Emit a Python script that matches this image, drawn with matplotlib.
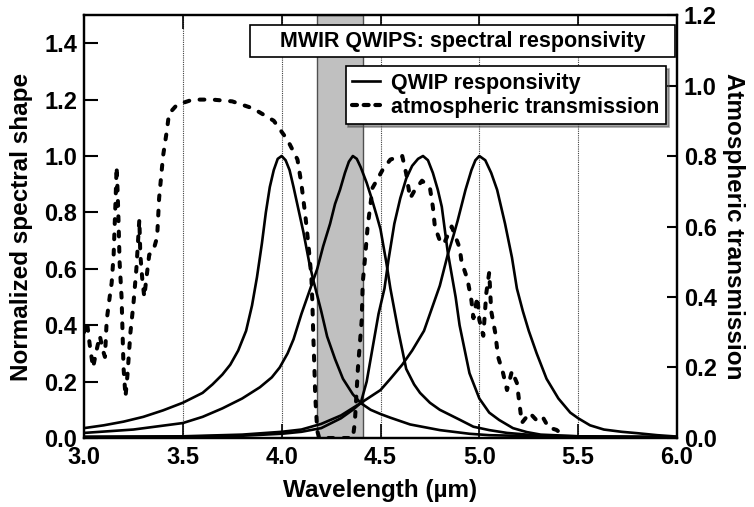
import numpy as np
import matplotlib
matplotlib.use("Agg")
import matplotlib.pyplot as plt
from matplotlib.patches import Rectangle
from matplotlib.lines import Line2D

plt.rcParams['font.family'] = ['Liberation Sans', 'DejaVu Sans']
plt.rcParams['font.weight'] = 'bold'
plt.rcParams['axes.labelweight'] = 'bold'

# ── QWIP spectral responsivities (normalized, left axis) ─────────────────────
q1_x = [3.00, 3.10, 3.20, 3.30, 3.40, 3.50, 3.60, 3.65, 3.70, 3.74, 3.78, 3.82,
        3.85, 3.875, 3.90, 3.92, 3.94, 3.96, 3.98, 4.00, 4.02, 4.04, 4.06, 4.085,
        4.11, 4.14, 4.16, 4.20, 4.23, 4.27, 4.31, 4.36, 4.40, 4.45, 4.50, 4.55,
        4.65, 4.80, 4.95, 5.05, 5.30, 5.60, 6.00]
q1_y = [0.035, 0.045, 0.058, 0.075, 0.098, 0.125, 0.16, 0.19, 0.225, 0.26, 0.31, 0.38,
        0.47, 0.57, 0.69, 0.80, 0.89, 0.95, 0.99, 1.00, 0.985, 0.95, 0.89, 0.81,
        0.73, 0.62, 0.56, 0.45, 0.36, 0.28, 0.21, 0.155, 0.124, 0.10, 0.085, 0.072,
        0.048, 0.028, 0.015, 0.010, 0.006, 0.004, 0.003]

q2_x = [3.00, 3.25, 3.50, 3.60, 3.70, 3.80, 3.89, 3.95, 3.99, 4.03, 4.06, 4.10,
        4.14, 4.16, 4.18, 4.21, 4.245, 4.27, 4.295, 4.32, 4.34, 4.36, 4.38, 4.40,
        4.43, 4.455, 4.48, 4.50, 4.53, 4.55, 4.59, 4.63, 4.67, 4.70, 4.75, 4.80,
        4.90, 4.97, 5.05, 5.14, 5.31, 5.60, 6.00]
q2_y = [0.018, 0.030, 0.053, 0.075, 0.105, 0.14, 0.18, 0.215, 0.25, 0.30, 0.35, 0.44,
        0.52, 0.56, 0.60, 0.68, 0.76, 0.83, 0.88, 0.94, 0.98, 1.00, 0.99, 0.96,
        0.905, 0.85, 0.79, 0.74, 0.62, 0.53, 0.38, 0.245, 0.19, 0.16, 0.125, 0.10,
        0.065, 0.040, 0.028, 0.018, 0.008, 0.005, 0.003]

q3_x = [3.00, 3.50, 3.80, 4.00, 4.10, 4.20, 4.30, 4.36, 4.40, 4.43, 4.46, 4.49,
        4.52, 4.54, 4.57, 4.60, 4.63, 4.66, 4.69, 4.715, 4.74, 4.765, 4.79, 4.81,
        4.84, 4.86, 4.88, 4.90, 4.95, 5.00, 5.05, 5.10, 5.17, 5.24, 5.31, 5.50, 6.00]
q3_y = [0.004, 0.005, 0.008, 0.015, 0.022, 0.035, 0.07, 0.10, 0.124, 0.20, 0.32, 0.44,
        0.53, 0.63, 0.76, 0.85, 0.92, 0.965, 0.99, 1.00, 0.985, 0.94, 0.88, 0.82,
        0.66, 0.58, 0.50, 0.40, 0.23, 0.14, 0.09, 0.064, 0.035, 0.021, 0.012, 0.006, 0.003]

q4_x = [3.00, 3.50, 3.80, 4.00, 4.10, 4.20, 4.30, 4.40, 4.50, 4.55, 4.61, 4.66,
        4.72, 4.76, 4.80, 4.84, 4.87, 4.89, 4.93, 4.96, 4.98, 5.00, 5.03, 5.06,
        5.09, 5.13, 5.165, 5.19, 5.22, 5.25, 5.29, 5.34, 5.40, 5.46, 5.50, 5.56,
        5.63, 5.72, 5.80, 5.90, 6.00]
q4_y = [0.004, 0.006, 0.012, 0.022, 0.030, 0.050, 0.080, 0.124, 0.17, 0.21, 0.26, 0.31,
        0.38, 0.46, 0.54, 0.65, 0.72, 0.77, 0.88, 0.95, 0.985, 1.00, 0.985, 0.94,
        0.88, 0.76, 0.64, 0.53, 0.45, 0.38, 0.30, 0.21, 0.14, 0.09, 0.07, 0.045,
        0.030, 0.022, 0.017, 0.010, 0.005]

# ── Atmospheric transmission (right axis) ────────────────────────────────────
atm_x = [3.00, 3.015, 3.03, 3.046, 3.06, 3.08, 3.095, 3.106, 3.115, 3.13, 3.14, 3.15,
         3.155, 3.16, 3.165, 3.17, 3.175, 3.18, 3.19, 3.195, 3.20, 3.21, 3.22, 3.235,
         3.25, 3.265, 3.28, 3.285, 3.295, 3.305, 3.315, 3.33, 3.35, 3.37, 3.38, 3.39,
         3.40, 3.42, 3.43, 3.47, 3.55, 3.65, 3.75, 3.855, 3.96, 4.03, 4.08, 4.10,
         4.12, 4.135, 4.15, 4.155, 4.16, 4.165, 4.17, 4.18, 4.19, 4.36, 4.37, 4.386,
         4.405, 4.41, 4.42, 4.435, 4.46, 4.51, 4.55, 4.61, 4.63, 4.65, 4.67, 4.71,
         4.75, 4.765, 4.775, 4.80, 4.82, 4.86, 4.90, 4.91, 4.94, 4.96, 4.97, 4.99,
         5.00, 5.02, 5.035, 5.05, 5.06, 5.08, 5.095, 5.12, 5.14, 5.165, 5.19, 5.205,
         5.215, 5.255, 5.29, 5.32, 5.35, 5.39, 5.42]
atm_y = [0.30, 0.33, 0.26, 0.20, 0.24, 0.29, 0.25, 0.23, 0.335, 0.40, 0.44, 0.52,
         0.60, 0.68, 0.77, 0.70, 0.61, 0.50, 0.40, 0.30, 0.20, 0.117, 0.18, 0.30,
         0.38, 0.48, 0.62, 0.52, 0.45, 0.40, 0.45, 0.52, 0.53, 0.57, 0.68, 0.74,
         0.80, 0.875, 0.92, 0.945, 0.96, 0.96, 0.955, 0.935, 0.90, 0.845, 0.79, 0.72,
         0.63, 0.55, 0.46, 0.39, 0.29, 0.21, 0.117, 0.02, 0.0, 0.0, 0.043, 0.20,
         0.335, 0.44, 0.50, 0.60, 0.71, 0.76, 0.79, 0.80, 0.75, 0.68, 0.70, 0.73,
         0.71, 0.655, 0.60, 0.56, 0.55, 0.60, 0.54, 0.50, 0.45, 0.39, 0.34, 0.40,
         0.335, 0.29, 0.41, 0.47, 0.36, 0.30, 0.23, 0.184, 0.136, 0.19, 0.156, 0.088,
         0.043, 0.071, 0.05, 0.06, 0.03, 0.023, 0.01]

band = (4.18, 4.41)   # CO2 absorption band (shaded)
x_ticks = [3.0, 3.5, 4.0, 4.5, 5.0, 5.5, 6.0]
yl_ticks = [0.0, 0.2, 0.4, 0.6, 0.8, 1.0, 1.2, 1.4]
yr_ticks = [0.0, 0.2, 0.4, 0.6, 0.8, 1.0, 1.2]

fig = plt.figure(figsize=(7.54, 5.07), dpi=100)
ax = fig.add_axes([0.1114, 0.1361, 0.7865, 0.8343])
ax2 = ax.twinx()

ax.axvspan(band[0], band[1], facecolor='#c0c0c0', edgecolor='#505050', lw=1.0, zorder=0)
for xv in x_ticks[1:-1]:
    ax.axvline(xv, color='0.25', lw=0.8, ls=(0, (1, 1)), zorder=0.5)

for xs, ys in [(q1_x, q1_y), (q2_x, q2_y), (q3_x, q3_y), (q4_x, q4_y)]:
    ax.plot(xs, ys, color='black', lw=1.9, solid_joinstyle='round')

dash = (0, (1.2, 2.6))
ax2.plot(atm_x, atm_y, color='black', lw=2.9, ls=dash, dash_capstyle='round')

ax.set_xlim(3.0, 6.0)
ax.set_ylim(0, 1.5)
ax2.set_ylim(0, 1.2)
ax.set_xticks(x_ticks)
ax.set_yticks(yl_ticks)
ax2.set_yticks(yr_ticks)
ax.set_xticklabels([f"{v:.1f}" for v in x_ticks])
ax.set_yticklabels([f"{v:.1f}" for v in yl_ticks])
ax2.set_yticklabels([f"{v:.1f}" for v in yr_ticks])

ax.tick_params(axis='x', direction='in', length=10, width=1.2, top=True, labelsize=17, pad=6)
ax.tick_params(axis='y', direction='in', length=10, width=1.5, labelsize=17, pad=5)
ax2.tick_params(axis='y', direction='in', length=7, width=1.5, labelsize=17, pad=5)
for a in (ax, ax2):
    for sp in a.spines.values():
        sp.set_linewidth(1.6)

ax.set_xlabel("Wavelength (µm)", fontsize=17.5, labelpad=7)
ax.set_ylabel("Normalized spectral shape", fontsize=17.5, labelpad=8)
ax2.set_ylabel("Atmospheric transmission", fontsize=17.5, rotation=270, labelpad=20)

# title box
ax2.add_patch(Rectangle((0.280, 0.901), 0.717, 0.075, transform=ax2.transAxes,
                        facecolor='white', edgecolor='black', lw=1.2, zorder=5))
ax2.text(0.638, 0.9385, "MWIR QWIPS: spectral responsivity", transform=ax2.transAxes,
         ha='center', va='center', fontsize=15.5, fontweight='bold', zorder=6)

handles = [Line2D([], [], color='black', lw=1.9),
           Line2D([], [], color='black', lw=3.0, ls=(0, (1.2, 1.6)), dash_capstyle='round')]
leg = ax2.legend(handles, ["QWIP responsivity", "atmospheric transmission"],
                 loc='upper right', bbox_to_anchor=(0.981, 0.879), borderaxespad=0,
                 fontsize=15.5, frameon=True, fancybox=False, shadow=True,
                 handlelength=1.3, handletextpad=0.5, labelspacing=0.15,
                 borderpad=0.3, framealpha=1)
leg.get_frame().set_edgecolor('black')
leg.get_frame().set_linewidth(1.2)
leg.set_zorder(6)

fig.savefig("out.png", dpi=100)
